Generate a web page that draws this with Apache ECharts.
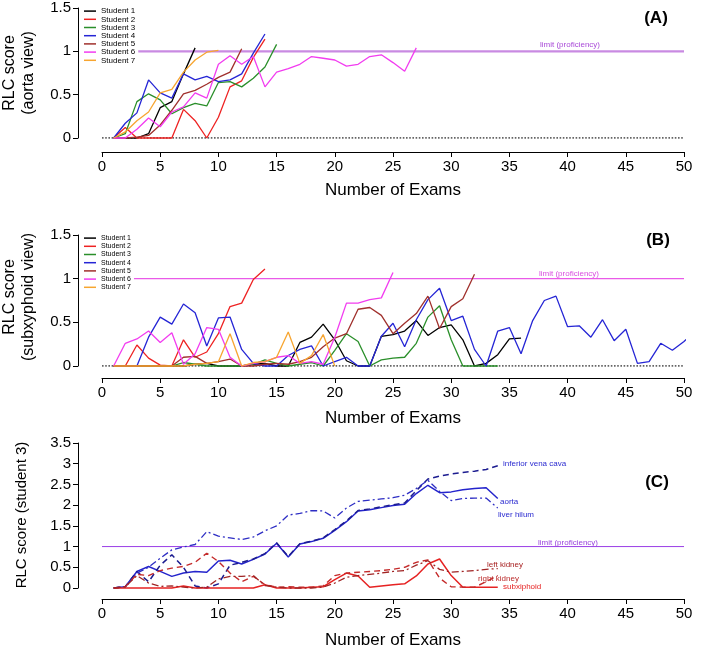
<!DOCTYPE html>
<html><head><meta charset="utf-8">
<script src="https://cdn.jsdelivr.net/npm/echarts@6/dist/echarts.min.js"></script>
<style>html,body{margin:0;padding:0;background:#fff}#c{width:709px;height:648px}</style>
</head><body><div id="c"></div>
<script>
// ---------- DATA ----------
const studentNames = ['Student 1','Student 2','Student 3','Student 4','Student 5','Student 6','Student 7'];
const xTicks = [0,5,10,15,20,25,30,35,40,45,50];
const limitScore = 1;
const xRange = [0, 50];

// Panel A: aorta view (score at exam 1,2,3,...)
const s1A = [0,0,0,0.05,0.35,0.42,0.74,1.04];
const s2A = [0,0.12,0,0,0,0,0.33,0.2,0,0.24,0.59,0.66,0.93,1.14];
const s3A = [0,0.05,0.42,0.51,0.44,0.28,0.35,0.4,0.37,0.64,0.65,0.59,0.69,0.82,1.08];
const s4A = [0,0.17,0.29,0.67,0.52,0.46,0.74,0.67,0.71,0.65,0.67,0.74,0.98,1.2];
const s5A = [0,0,0.01,0.03,0.15,0.32,0.51,0.55,0.62,0.7,0.76,1.03];
const s6A = [0,0,0.1,0.23,0.13,0.3,0.36,0.52,0.46,0.85,0.95,0.85,0.94,0.59,0.76,0.8,0.85,0.94,0.92,0.9,0.83,0.85,0.94,0.96,0.87,0.77,1.04];
const s7A = [0,0.07,0.2,0.3,0.52,0.56,0.76,0.9,0.99,1.01];

// Panel B: subxyphoid view
const s1B = [0,0,0,0,0,0,0,0.02,0.03,0,0,0,0.02,0.03,0,0,0.27,0.33,0.48,0.3,0.06,0,0,0.34,0.36,0.4,0.52,0.35,0.44,0.47,0.3,0,0.03,0.13,0.31,0.32];
const s2B = [0,0,0.24,0.09,0.01,0,0.3,0.1,0.16,0.37,0.68,0.72,0.99,1.11];
const s3B = [0,0,0,0,0,0,0.04,0.02,0,0,0,0,0.02,0.07,0.03,0,0.02,0.04,0,0.18,0.37,0.28,0,0.07,0.09,0.1,0.26,0.56,0.69,0.3,0,0,0,0];
const s4B = [0,0,0,0.33,0.56,0.48,0.71,0.61,0.23,0.55,0.56,0.19,0.03,0,0,0.12,0.19,0.23,0,0.05,0.1,0,0,0.34,0.49,0.22,0.53,0.76,0.89,0.52,0.57,0.19,0,0.4,0.44,0.14,0.52,0.75,0.8,0.45,0.46,0.33,0.53,0.29,0.42,0.03,0.05,0.26,0.18,0.28,0.41];
const s5B = [0,0,0,0,0,0,0.1,0.11,0.03,0.05,0.08,0,0,0.02,0.03,0.02,0.05,0.1,0.22,0.32,0.37,0.65,0.67,0.58,0.37,0.49,0.6,0.8,0.43,0.68,0.77,1.05];
const s6B = [0,0.26,0.31,0.4,0.27,0.38,0.02,0.14,0.44,0.42,0.1,0,0.03,0.05,0.1,0.12,0.03,0.05,0.02,0.33,0.72,0.72,0.76,0.78,1.07];
const s7B = [0,0,0,0,0,0,0,0.02,0.03,0.05,0.37,0,0.04,0.05,0.1,0.39,0.03,0.12,0.36,0];

// Panel C: student 3 by view
const aortaC  = [0,0.03,0.4,0.52,0.4,0.28,0.36,0.4,0.38,0.65,0.67,0.58,0.69,0.82,1.08,0.75,1.06,1.12,1.2,1.39,1.6,1.86,1.89,1.94,1.99,2.02,2.28,2.48,2.3,2.32,2.37,2.4,2.42,2.16];
const ivcC    = [0,0.03,0.4,0.15,0.55,0.8,0.5,0.05,0,0.1,0.55,0.62,0.7,0.83,1.09,0.76,1.07,1.13,1.21,1.41,1.62,1.87,1.91,1.96,2.01,2.05,2.35,2.63,2.7,2.75,2.79,2.82,2.86,2.95];
const hilumC  = [0,0.03,0.36,0.5,0.72,0.92,0.99,1.05,1.36,1.25,1.21,1.17,1.23,1.38,1.5,1.76,1.8,1.87,1.86,1.69,1.93,2.09,2.12,2.15,2.18,2.24,2.4,2.6,2.33,2.11,2.16,2.17,2.17,1.93];
const subxC   = [0,0,0,0,0,0,0.05,0,0,0,0,0,0,0.08,0,0,0,0.02,0.03,0.2,0.36,0.29,0.02,0.05,0.08,0.1,0.29,0.58,0.7,0.3,0.02,0.02,0.02,0.02];
const rkidC   = [0,0.03,0.33,0.3,0.42,0.48,0.52,0.62,0.84,0.64,0.36,0.15,0.28,0.08,0.02,0.03,0.02,0.02,0.05,0.3,0.36,0.38,0.4,0.42,0.45,0.5,0.62,0.68,0.24,0.03,0.02,0.02,0.15,0.3];
const lkidC   = [0,0.03,0.3,0.12,0.04,0.05,0.02,0,0.02,0.22,0.28,0.28,0.3,0.06,0.02,0,0,0,0.02,0.12,0.26,0.3,0.33,0.36,0.4,0.42,0.55,0.66,0.45,0.38,0.4,0.42,0.45,0.47];

// ---------- STYLE ----------
const FONT = '"Liberation Sans", Arial, sans-serif';
const studentColors = ['#000000','#ee2222','#2a8f2a','#2525d5','#a0302c','#f23cf0','#f7a530'];
const pts = arr => arr.map((v, i) => [i + 1, v]);

const chart = echarts.init(document.getElementById('c'), null, {renderer: 'canvas'});

function xAx(g, off) {
  return {gridIndex: g, type: 'value', min: xRange[0], max: xRange[1], interval: 5, offset: off,
    axisLine: {show: true, onZero: false, lineStyle: {color: '#000', width: 1}},
    axisTick: {show: true, length: 5, lineStyle: {color: '#000'}},
    axisLabel: {fontSize: 15, color: '#000', margin: 7, fontFamily: FONT},
    splitLine: {show: false}};
}
function yAx(g, max) {
  return {gridIndex: g, type: 'value', min: 0, max: max, interval: 0.5, offset: 24,
    axisLine: {show: true, onZero: false, lineStyle: {color: '#000', width: 1}},
    axisTick: {show: true, length: 5, lineStyle: {color: '#000'}},
    axisLabel: {fontSize: 15, color: '#000', margin: 7, fontFamily: FONT},
    splitLine: {show: false}};
}

const series = [];
function refLine(g, y, color, width, type, z) {
  series.push({type: 'line', xAxisIndex: g, yAxisIndex: g, data: [[xRange[0], y], [xRange[1], y]],
    symbol: 'none', silent: true, z: z, lineStyle: {color: color, width: width, type: type}});
}
refLine(0, 0, '#333', 1.6, [1.6, 1.6], 1);
refLine(0, limitScore, '#c98ae2', 2.4, 'solid', 1);
refLine(1, 0, '#333', 1.6, [1.6, 1.6], 1);
refLine(1, limitScore, '#e95ae8', 1.2, 'solid', 1);
refLine(2, limitScore, '#9a3ee6', 1, 'solid', 1);

const dataA = [s1A, s2A, s3A, s4A, s5A, s6A, s7A];
const dataB = [s1B, s2B, s3B, s4B, s5B, s6B, s7B];
[dataA, dataB].forEach((set, g) => {
  set.forEach((arr, k) => {
    series.push({type: 'line', name: studentNames[k], xAxisIndex: g, yAxisIndex: g, data: pts(arr),
      symbol: 'none', showSymbol: false, clip: false, z: 3, lineStyle: {color: studentColors[k], width: 1.3},
      itemStyle: {color: studentColors[k]}});
  });
});

const cSeries = [
  {d: aortaC, c: '#2424cc', t: 'solid', w: 1.5},
  {d: ivcC, c: '#1c1c90', t: [6, 4], w: 1.5},
  {d: hilumC, c: '#2e2ec4', t: [7, 3, 2, 3], w: 1.3},
  {d: subxC, c: '#e62222', t: 'solid', w: 1.5},
  {d: rkidC, c: '#c42a2a', t: [6, 4], w: 1.4},
  {d: lkidC, c: '#a02424', t: [7, 3, 2, 3], w: 1.3}
];
cSeries.forEach(s => series.push({type: 'line', xAxisIndex: 2, yAxisIndex: 2, data: pts(s.d),
  symbol: 'none', clip: false, z: 3, lineStyle: {color: s.c, width: s.w, type: s.t}}));

function txt(x, y, text, font, color, opts) {
  const o = {type: 'text', x: x, y: y, z: 10,
    style: Object.assign({text: text, fill: color, font: font, align: 'left', verticalAlign: 'middle'}, (opts && opts.style) || {})};
  if (opts && opts.rotation) o.rotation = opts.rotation;
  return o;
}
const f = (s, b) => (b ? 'bold ' : '') + s + 'px ' + FONT;

const graphics = [
  txt(19.5, 73, 'RLC score\n(aorta view)', f(16), '#000', {rotation: Math.PI / 2, style: {align: 'center', lineHeight: 19}}),
  txt(19.5, 297, 'RLC score\n(subxyphoid view)', f(16), '#000', {rotation: Math.PI / 2, style: {align: 'center', lineHeight: 19}}),
  txt(22, 515, 'RLC score (student 3)', f(15), '#000', {rotation: Math.PI / 2, style: {align: 'center'}}),
  txt(393, 190, 'Number of Exams', f(17), '#000', {style: {align: 'center'}}),
  txt(393, 418, 'Number of Exams', f(17), '#000', {style: {align: 'center'}}),
  txt(393, 640, 'Number of Exams', f(17), '#000', {style: {align: 'center'}}),
  txt(656, 18, '(A)', f(17, true), '#000', {style: {align: 'center'}}),
  txt(658, 240, '(B)', f(17, true), '#000', {style: {align: 'center'}}),
  txt(657, 482, '(C)', f(17, true), '#000', {style: {align: 'center'}}),
  txt(540, 45, 'limit (proficiency)', f(8), '#a94ad8'),
  txt(539, 274, 'limit (proficiency)', f(8), '#d94fe0'),
  txt(538, 543, 'limit (proficiency)', f(8), '#9a44dd'),
  txt(503, 464, 'inferior vena cava', f(8), '#2a2ad0'),
  txt(500, 502, 'aorta', f(8), '#2a2ad0'),
  txt(498, 515, 'liver hilum', f(8), '#2a2ad0'),
  txt(487, 565, 'left kidney', f(8), '#a82222'),
  txt(478, 579, 'right kidney', f(8), '#bb2a2a'),
  txt(503, 587, 'subxiphoid', f(8), '#e62222')
];

const legendBase = {data: studentNames, orient: 'vertical', itemGap: 0, selectedMode: false,
  icon: 'rect', itemWidth: 12, itemHeight: 1.5, backgroundColor: '#fff', padding: [0, 3, 0, 0]};

chart.setOption({
  animation: false,
  backgroundColor: '#fff',
  textStyle: {fontFamily: FONT},
  grid: [
    {left: 102, right: 25, top: 8, height: 130},
    {left: 102, right: 25, top: 235, height: 131},
    {left: 102, right: 25, top: 443, height: 145}
  ],
  xAxis: [xAx(0, 14), xAx(1, 12), xAx(2, 11)],
  yAxis: [yAx(0, 1.5), yAx(1, 1.5), yAx(2, 3.5)],
  legend: [
    Object.assign({}, legendBase, {left: 84, top: 7, textStyle: {fontSize: 8, lineHeight: 8.2, color: '#000', fontFamily: FONT}}),
    Object.assign({}, legendBase, {left: 84, top: 234, textStyle: {fontSize: 7, lineHeight: 8.2, color: '#000', fontFamily: FONT}})
  ],
  series: series,
  graphic: graphics
});
</script></body></html>
